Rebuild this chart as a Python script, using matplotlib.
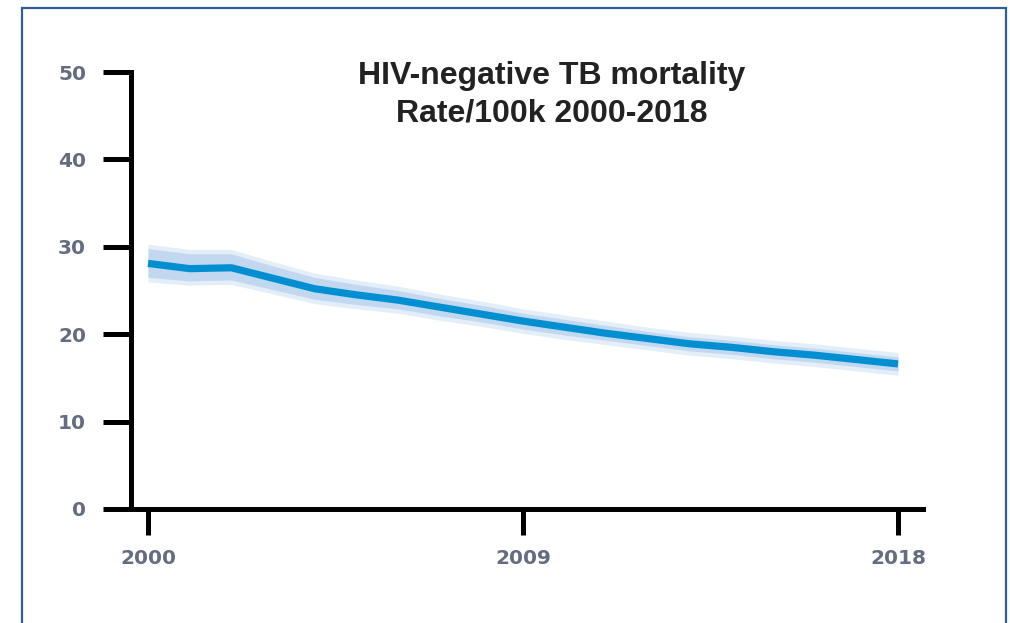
import matplotlib
matplotlib.use('Agg')
import matplotlib.pyplot as plt
from matplotlib.patches import Rectangle

# data
years = [2000, 2001, 2002, 2003, 2004, 2005, 2006, 2007, 2008, 2009,
         2010, 2011, 2012, 2013, 2014, 2015, 2016, 2017, 2018]
rate = [28.1, 27.5, 27.6, 26.4, 25.2, 24.5, 23.9, 23.1, 22.3, 21.5,
        20.8, 20.1, 19.5, 18.9, 18.5, 18.0, 17.6, 17.1, 16.6]
rate_lo = [26.5, 26.1, 26.2, 25.1, 24.0, 23.4, 22.9, 22.1, 21.4, 20.6,
           19.9, 19.3, 18.7, 18.1, 17.7, 17.2, 16.8, 16.3, 15.8]
rate_hi = [29.8, 29.2, 29.2, 27.8, 26.5, 25.7, 25.0, 24.1, 23.3, 22.4,
           21.7, 21.0, 20.3, 19.7, 19.3, 18.8, 18.4, 17.9, 17.4]
xticks = [2000, 2009, 2018]
yticks = [0, 10, 20, 30, 40, 50]
title = 'HIV-negative TB mortality\nRate/100k 2000-2018'

fig = plt.figure(figsize=(10.1, 6.23), dpi=100)

# outer frame
fig.patches.append(Rectangle((22 / 1010, -0.05), 984 / 1010, 1.05 - 8 / 623,
                             transform=fig.transFigure, fill=False,
                             edgecolor='#2f5f98', linewidth=1.6))

ax = fig.add_axes([130.5 / 1010, 114 / 623, (923 - 130.5) / 1010, (551 - 114) / 623])

# soft uncertainty band
ax.fill_between(years, [v - 0.5 for v in rate_lo], [v + 0.5 for v in rate_hi],
                color='#e3eef9', linewidth=0)
ax.fill_between(years, rate_lo, rate_hi, color='#c2d8f0', linewidth=0)
ax.plot(years, rate, color='#0090d2', linewidth=5.2, solid_capstyle='butt')

ax.set_xlim(1999.58, 2018.6)
ax.set_ylim(0, 50)
ax.set_xticks(xticks)
ax.set_yticks(yticks)
ax.set_xticklabels([str(t) for t in xticks])
ax.set_yticklabels([str(t) for t in yticks])

for s in ['top', 'right']:
    ax.spines[s].set_visible(False)
for s in ['left', 'bottom']:
    ax.spines[s].set_linewidth(3.6)
    ax.spines[s].set_color('black')

ax.tick_params(axis='y', direction='out', length=20, width=3.6, pad=12,
               labelsize=14.5, labelcolor='#646c82')
ax.tick_params(axis='x', direction='out', length=19, width=3.6, pad=10,
               labelsize=14.5, labelcolor='#646c82')
for lab in ax.get_xticklabels() + ax.get_yticklabels():
    lab.set_fontweight('bold')

fig.text(552 / 1010, 1 - 95 / 623, title, ha='center', va='center',
         fontsize=23, fontweight='bold', family='Liberation Sans',
         color='#222222', linespacing=1.32)

fig.savefig('out.png', dpi=100)
